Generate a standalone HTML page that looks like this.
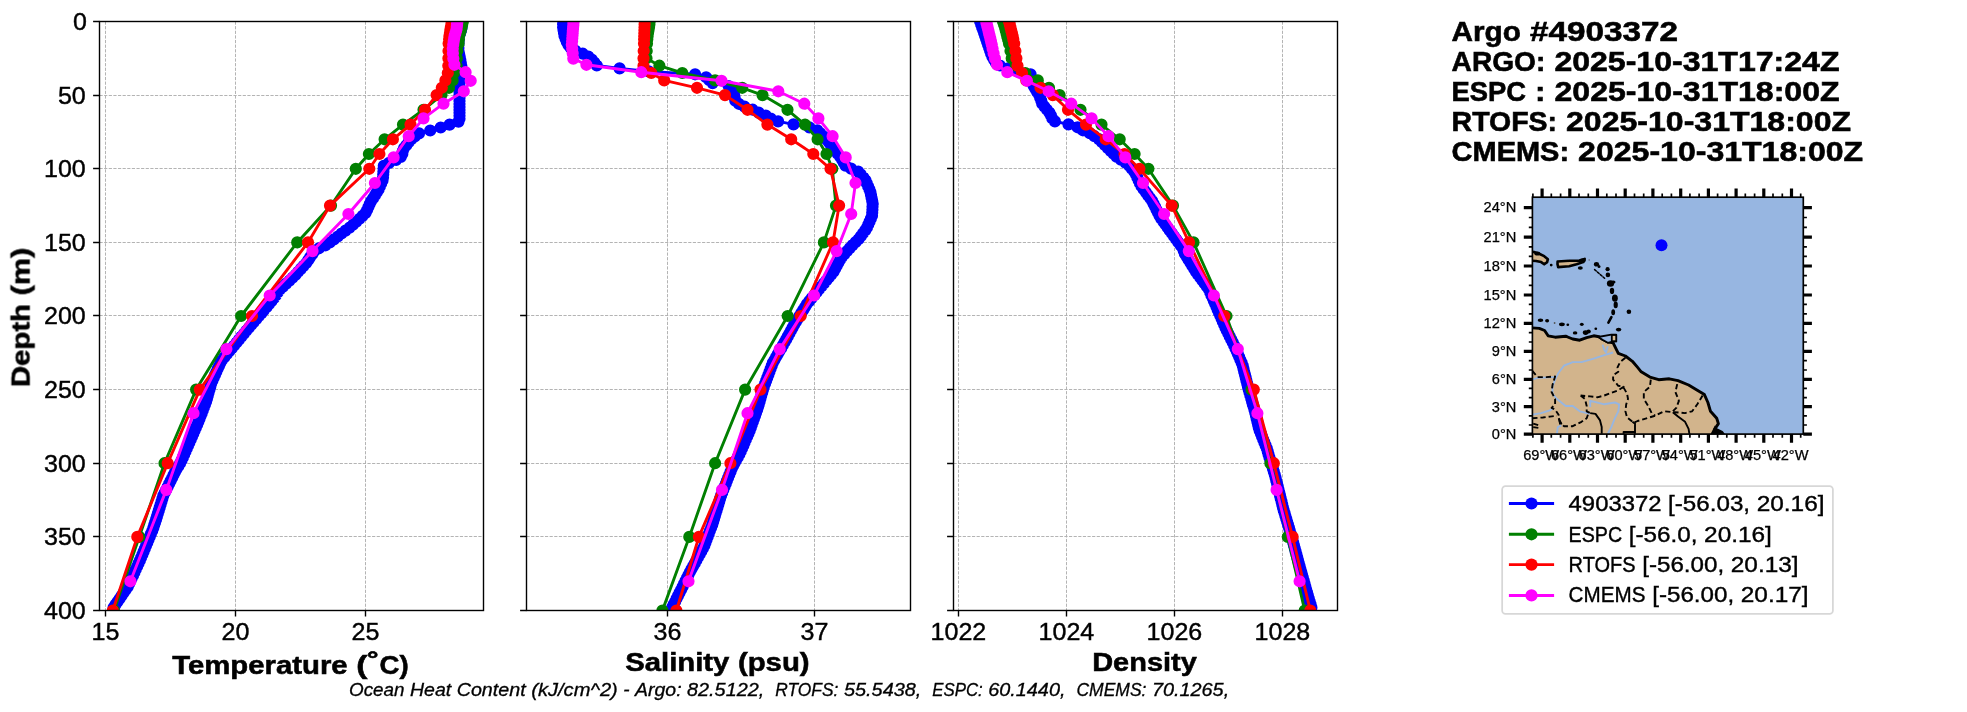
<!DOCTYPE html>
<html><head><meta charset="utf-8"><title>Argo 4903372</title>
<style>html,body{margin:0;padding:0;background:#fff;overflow:hidden}svg{display:block;font-family:"Liberation Sans",sans-serif}</style></head><body>
<svg width="1967" height="712" viewBox="0 0 1967 712">
<rect width="1967" height="712" fill="#fff"/>
<g opacity="0.999">
<defs>
<clipPath id="c0"><rect x="99.5" y="21.5" width="384" height="589"/></clipPath>
<clipPath id="c1"><rect x="526.5" y="21.5" width="384" height="589"/></clipPath>
<clipPath id="c2"><rect x="953.5" y="21.5" width="384" height="589"/></clipPath>
</defs>
<g id="panel1">
<path d="M99.5 95.5H483.5M99.5 168.5H483.5M99.5 242.5H483.5M99.5 315.5H483.5M99.5 389.5H483.5M99.5 463.5H483.5M99.5 536.5H483.5M105.5 21.5V610.5M235.5 21.5V610.5M365.5 21.5V610.5" stroke="#b0b0b0" stroke-width="0.95" stroke-dasharray="3.2 1.42" fill="none"/>
<g clip-path="url(#c0)">
<path d="M462 21.5L461.8 24.4L461.6 27.4L461 30.3L460 33.3L459 36.2L458.8 39.2L458.6 42.1L458.4 45.1L458.4 48L458.5 51L459.1 53.9L459.7 56.8L460.3 59.8L460.8 62.7L461.3 65.7L460.8 68.6L459.7 71.6L459.5 74.5L459.5 77.5L459.5 80.4L459.5 83.3L459.5 86.3L459.5 89.2L459.5 92.2L459.5 95.1L459.5 98.1L459.5 101L459.5 104L459.5 106.9L459.5 109.9L459.5 112.8L459.5 115.7L459.5 118.7L458.5 121.6L449.6 124.6L440.7 127.5L430.2 130.5L419 133.4L414.8 136.4L411.3 139.3L408.6 142.2L406.3 145.2L404.1 148.1L402.8 151.1L402.3 154L400.8 157L396.1 159.9L389.1 162.9L383.8 165.8L383.6 168.8L383.4 171.7L383.2 174.6L383 177.6L382.5 180.5L381.2 183.5L379.9 186.4L378.6 189.4L376.8 192.3L375 195.3L373.1 198.2L371.2 201.1L369.7 204.1L368.4 207L367.1 210L365.6 212.9L362.6 215.9L359.6 218.8L356.4 221.8L353 224.7L349.5 227.7L345.5 230.6L341.5 233.5L337.8 236.5L333.9 239.4L329.8 242.4L325.6 245.3L319 248.3L314.2 251.2L312.2 254.2L310.2 257.1L308.3 260L306.3 263L303.6 265.9L300.9 268.9L298.2 271.8L295.6 274.8L292.5 277.7L289.4 280.7L286.2 283.6L283 286.6L279.9 289.5L277.7 292.4L275.8 295.4L273.8 298.3L271.4 301.3L268.9 304.2L266.5 307.2L264 310.1L261.6 313.1L259 316L256.5 318.9L253.9 321.9L251.4 324.8L248.9 327.8L246.3 330.7L243.9 333.7L241.4 336.6L239 339.6L236.6 342.5L234.1 345.5L231.7 348.4L229.2 351.3L226.7 354.3L224.3 357.2L221.8 360.2L220.3 363.1L219 366.1L217.6 369L216.3 372L215 374.9L213.7 377.8L212.4 380.8L211.1 383.7L210.3 386.7L209.5 389.6L208.6 392.6L207.8 395.5L207 398.5L206.1 401.4L205 404.4L203.9 407.3L202.8 410.2L201.7 413.2L200.6 416.1L199.5 419.1L198.3 422L197.1 425L195.8 427.9L194.5 430.9L193.3 433.8L192 436.7L190.7 439.7L189.4 442.6L188.1 445.6L186.8 448.5L185.5 451.5L184.2 454.4L182.9 457.4L181.6 460.3L180.1 463.3L178.3 466.2L176.6 469.1L175 472.1L173.5 475L172.1 478L170.6 480.9L169.1 483.9L167.7 486.8L166.2 489.8L164.7 492.7L163.3 495.6L162.4 498.6L161.5 501.5L160.6 504.5L159.7 507.4L158.8 510.4L157.9 513.3L157 516.3L156.1 519.2L155.1 522.2L154.2 525.1L153.3 528L152.2 531L150.9 533.9L149.7 536.9L148.5 539.8L147.3 542.8L146 545.7L144.8 548.7L143.6 551.6L142.4 554.5L141.1 557.5L139.9 560.4L138.5 563.4L137.2 566.3L135.8 569.3L134.5 572.2L133.1 575.2L131.8 578.1L130.4 581.1L129.1 584L127.7 586.9L125.6 589.9L123.6 592.8L121.6 595.8L119.6 598.7L117.5 601.7L115.5 604.6L113.6 607.6" fill="none" stroke="#0000ff" stroke-width="2.9" stroke-linejoin="round"/><path d="M462 21.5h0M461.8 24.4h0M461.6 27.4h0M461 30.3h0M460 33.3h0M459 36.2h0M458.8 39.2h0M458.6 42.1h0M458.4 45.1h0M458.4 48h0M458.5 51h0M459.1 53.9h0M459.7 56.8h0M460.3 59.8h0M460.8 62.7h0M461.3 65.7h0M460.8 68.6h0M459.7 71.6h0M459.5 74.5h0M459.5 77.5h0M459.5 80.4h0M459.5 83.3h0M459.5 86.3h0M459.5 89.2h0M459.5 92.2h0M459.5 95.1h0M459.5 98.1h0M459.5 101h0M459.5 104h0M459.5 106.9h0M459.5 109.9h0M459.5 112.8h0M459.5 115.7h0M459.5 118.7h0M458.5 121.6h0M449.6 124.6h0M440.7 127.5h0M430.2 130.5h0M419 133.4h0M414.8 136.4h0M411.3 139.3h0M408.6 142.2h0M406.3 145.2h0M404.1 148.1h0M402.8 151.1h0M402.3 154h0M400.8 157h0M396.1 159.9h0M389.1 162.9h0M383.8 165.8h0M383.6 168.8h0M383.4 171.7h0M383.2 174.6h0M383 177.6h0M382.5 180.5h0M381.2 183.5h0M379.9 186.4h0M378.6 189.4h0M376.8 192.3h0M375 195.3h0M373.1 198.2h0M371.2 201.1h0M369.7 204.1h0M368.4 207h0M367.1 210h0M365.6 212.9h0M362.6 215.9h0M359.6 218.8h0M356.4 221.8h0M353 224.7h0M349.5 227.7h0M345.5 230.6h0M341.5 233.5h0M337.8 236.5h0M333.9 239.4h0M329.8 242.4h0M325.6 245.3h0M319 248.3h0M314.2 251.2h0M312.2 254.2h0M310.2 257.1h0M308.3 260h0M306.3 263h0M303.6 265.9h0M300.9 268.9h0M298.2 271.8h0M295.6 274.8h0M292.5 277.7h0M289.4 280.7h0M286.2 283.6h0M283 286.6h0M279.9 289.5h0M277.7 292.4h0M275.8 295.4h0M273.8 298.3h0M271.4 301.3h0M268.9 304.2h0M266.5 307.2h0M264 310.1h0M261.6 313.1h0M259 316h0M256.5 318.9h0M253.9 321.9h0M251.4 324.8h0M248.9 327.8h0M246.3 330.7h0M243.9 333.7h0M241.4 336.6h0M239 339.6h0M236.6 342.5h0M234.1 345.5h0M231.7 348.4h0M229.2 351.3h0M226.7 354.3h0M224.3 357.2h0M221.8 360.2h0M220.3 363.1h0M219 366.1h0M217.6 369h0M216.3 372h0M215 374.9h0M213.7 377.8h0M212.4 380.8h0M211.1 383.7h0M210.3 386.7h0M209.5 389.6h0M208.6 392.6h0M207.8 395.5h0M207 398.5h0M206.1 401.4h0M205 404.4h0M203.9 407.3h0M202.8 410.2h0M201.7 413.2h0M200.6 416.1h0M199.5 419.1h0M198.3 422h0M197.1 425h0M195.8 427.9h0M194.5 430.9h0M193.3 433.8h0M192 436.7h0M190.7 439.7h0M189.4 442.6h0M188.1 445.6h0M186.8 448.5h0M185.5 451.5h0M184.2 454.4h0M182.9 457.4h0M181.6 460.3h0M180.1 463.3h0M178.3 466.2h0M176.6 469.1h0M175 472.1h0M173.5 475h0M172.1 478h0M170.6 480.9h0M169.1 483.9h0M167.7 486.8h0M166.2 489.8h0M164.7 492.7h0M163.3 495.6h0M162.4 498.6h0M161.5 501.5h0M160.6 504.5h0M159.7 507.4h0M158.8 510.4h0M157.9 513.3h0M157 516.3h0M156.1 519.2h0M155.1 522.2h0M154.2 525.1h0M153.3 528h0M152.2 531h0M150.9 533.9h0M149.7 536.9h0M148.5 539.8h0M147.3 542.8h0M146 545.7h0M144.8 548.7h0M143.6 551.6h0M142.4 554.5h0M141.1 557.5h0M139.9 560.4h0M138.5 563.4h0M137.2 566.3h0M135.8 569.3h0M134.5 572.2h0M133.1 575.2h0M131.8 578.1h0M130.4 581.1h0M129.1 584h0M127.7 586.9h0M125.6 589.9h0M123.6 592.8h0M121.6 595.8h0M119.6 598.7h0M117.5 601.7h0M115.5 604.6h0M113.6 607.6h0" fill="none" stroke="#0000ff" stroke-width="12.2" stroke-linecap="round"/>
<path d="M462.9 21.5L462.2 24.4L461.5 27.4L460.8 30.3L459.9 33.3L459 36.2L458.9 39.2L458.6 43.6L457.3 51L456.9 58.3L456.6 65.7L454 73L452.6 80.4L449 87.8L441.5 95.1L423.5 109.8L403 124.6L384.6 139.3L368.9 154L355.8 168.8L331 205.6L297.2 242.4L241.1 316L196.1 389.6L164.5 463.2L139.3 536.9L114 610.5" fill="none" stroke="#008000" stroke-width="2.9" stroke-linejoin="round"/><path d="M462.9 21.5h0M462.2 24.4h0M461.5 27.4h0M460.8 30.3h0M459.9 33.3h0M459 36.2h0M458.9 39.2h0M458.6 43.6h0M457.3 51h0M456.9 58.3h0M456.6 65.7h0M454 73h0M452.6 80.4h0M449 87.8h0M441.5 95.1h0M423.5 109.8h0M403 124.6h0M384.6 139.3h0M368.9 154h0M355.8 168.8h0M331 205.6h0M297.2 242.4h0M241.1 316h0M196.1 389.6h0M164.5 463.2h0M139.3 536.9h0M114 610.5h0" fill="none" stroke="#008000" stroke-width="12.2" stroke-linecap="round"/>
<path d="M451.9 21.5L451.4 24.4L450.8 27.4L450.3 30.3L449.9 33.3L449.4 36.2L449.1 39.2L448.6 43.6L448.5 51L448.4 58.3L448.3 65.7L447.8 73L445.4 80.4L441.8 87.8L436.6 95.1L425 109.8L410.5 124.6L392.9 139.3L379.4 154L369.3 168.8L330 205.6L308 242.4L252 316L199.8 389.6L167.7 463.2L137.3 536.9L112.8 610.5" fill="none" stroke="#ff0000" stroke-width="2.9" stroke-linejoin="round"/><path d="M451.9 21.5h0M451.4 24.4h0M450.8 27.4h0M450.3 30.3h0M449.9 33.3h0M449.4 36.2h0M449.1 39.2h0M448.6 43.6h0M448.5 51h0M448.4 58.3h0M448.3 65.7h0M447.8 73h0M445.4 80.4h0M441.8 87.8h0M436.6 95.1h0M425 109.8h0M410.5 124.6h0M392.9 139.3h0M379.4 154h0M369.3 168.8h0M330 205.6h0M308 242.4h0M252 316h0M199.8 389.6h0M167.7 463.2h0M137.3 536.9h0M112.8 610.5h0" fill="none" stroke="#ff0000" stroke-width="12.2" stroke-linecap="round"/>
<path d="M457.3 22.2L457.1 23.8L457 25.4L456.8 27.1L456.6 29L456.1 31L455.4 33.2L454.7 35.6L454.2 38.3L453.7 41.3L453.2 44.8L452.8 48.7L452.9 53.3L453.3 58.6L454.4 64.8L465.6 72.2L470.7 80.8L463.8 91.3L443.5 103.7L423.5 118.4L408.7 136.2L393.6 157.4L374.9 183L348.4 214L312.5 251.1L269.7 295.5L226.4 349.1L193.5 413.2L166.3 489.9L130.4 581.3" fill="none" stroke="#ff00ff" stroke-width="2.9" stroke-linejoin="round"/><path d="M457.3 22.2h0M457.1 23.8h0M457 25.4h0M456.8 27.1h0M456.6 29h0M456.1 31h0M455.4 33.2h0M454.7 35.6h0M454.2 38.3h0M453.7 41.3h0M453.2 44.8h0M452.8 48.7h0M452.9 53.3h0M453.3 58.6h0M454.4 64.8h0M465.6 72.2h0M470.7 80.8h0M463.8 91.3h0M443.5 103.7h0M423.5 118.4h0M408.7 136.2h0M393.6 157.4h0M374.9 183h0M348.4 214h0M312.5 251.1h0M269.7 295.5h0M226.4 349.1h0M193.5 413.2h0M166.3 489.9h0M130.4 581.3h0" fill="none" stroke="#ff00ff" stroke-width="12.2" stroke-linecap="round"/>
</g>
<rect x="99.5" y="21.5" width="384" height="589" fill="none" stroke="#000" stroke-width="1.4"/>
<path d="M99.5 21.5h-6.4M99.5 95.5h-6.4M99.5 168.5h-6.4M99.5 242.5h-6.4M99.5 315.5h-6.4M99.5 389.5h-6.4M99.5 463.5h-6.4M99.5 536.5h-6.4M99.5 610.5h-6.4M105.5 610.5v6.0M235.5 610.5v6.0M365.5 610.5v6.0" stroke="#000" stroke-width="1.4" fill="none"/>
<text x="91.6" y="639.6" font-size="23.9" stroke="#000" stroke-width="0.42" textLength="27.9" lengthAdjust="spacingAndGlyphs">15</text>
<text x="221.6" y="639.6" font-size="23.9" stroke="#000" stroke-width="0.42" textLength="27.9" lengthAdjust="spacingAndGlyphs">20</text>
<text x="351.6" y="639.6" font-size="23.9" stroke="#000" stroke-width="0.42" textLength="27.9" lengthAdjust="spacingAndGlyphs">25</text>
<text x="172.2" y="673.5" font-size="26.6" font-weight="bold" stroke="#000" stroke-width="0.56" textLength="175.5" lengthAdjust="spacingAndGlyphs">Temperature</text>
<text x="356.2" y="673.5" font-size="26.6" font-weight="bold" stroke="#000" stroke-width="0.56" textLength="11.2" lengthAdjust="spacingAndGlyphs">(</text>
<text x="367.4" y="671.9" font-size="26.6" font-weight="bold" stroke="#000" stroke-width="0.56" textLength="12.2" lengthAdjust="spacingAndGlyphs">˚</text>
<text x="379.6" y="673.5" font-size="26.6" font-weight="bold" stroke="#000" stroke-width="0.56" textLength="29.1" lengthAdjust="spacingAndGlyphs">C)</text>
</g>
<g id="panel2">
<path d="M526.5 95.5H910.5M526.5 168.5H910.5M526.5 242.5H910.5M526.5 315.5H910.5M526.5 389.5H910.5M526.5 463.5H910.5M526.5 536.5H910.5M667.5 21.5V610.5M814.5 21.5V610.5" stroke="#b0b0b0" stroke-width="0.95" stroke-dasharray="3.2 1.42" fill="none"/>
<g clip-path="url(#c1)">
<path d="M563.1 21.3L563.1 24.2L563.1 27.2L563.5 30.1L564 33.1L564.5 36L565.6 39L566.8 41.9L568.4 44.9L570.6 47.8L575.5 50.8L582.8 53.7L588.4 56.6L591.8 59.6L594.4 62.5L596.8 65.5L619.6 68.4L648.7 71.4L695.1 74.3L706.1 77.3L709.4 80.2L712.6 83.1L728.6 86.1L731.3 89L732.7 92L734.1 94.9L734.7 97.9L735.3 100.8L738.8 103.8L744.6 106.7L752.7 109.7L758.7 112.6L765.8 115.5L770.8 118.5L778.1 121.4L793.5 124.4L809.3 127.3L817.4 130.3L820.3 133.2L823.2 136.2L826.1 139.1L828.5 142L830.7 145L832.9 147.9L835.2 150.9L837.6 153.8L840.1 156.8L842.1 159.7L843.8 162.7L845.5 165.6L851.1 168.6L858.2 171.5L860.7 174.4L863.3 177.4L865.5 180.3L866.8 183.3L868.1 186.2L869.4 189.2L870.4 192.1L871 195.1L871.6 198L872.2 200.9L872.7 203.9L872.5 206.8L872.4 209.8L872.2 212.7L872 215.7L870.9 218.6L869.6 221.6L868.3 224.5L867 227.5L865.2 230.4L863 233.3L860.8 236.3L858.5 239.2L855.5 242.2L852.6 245.1L849.8 248.1L847.2 251L844.6 254L842 256.9L840 259.8L838.4 262.8L836.8 265.7L835.2 268.7L833.6 271.6L831.2 274.6L828.8 277.5L826.3 280.5L823.9 283.4L821.4 286.4L819 289.3L816.6 292.2L814.2 295.2L811.7 298.1L809.3 301.1L806.9 304L805.1 307L803.3 309.9L801.4 312.9L799.6 315.8L797.8 318.7L796 321.7L794.2 324.6L792.6 327.6L791 330.5L789.4 333.5L787.8 336.4L786.2 339.4L784.5 342.3L782.8 345.3L781.2 348.2L779.5 351.1L777.8 354.1L776.1 357L774.5 360L772.8 362.9L771.7 365.9L770.6 368.8L769.5 371.8L768.4 374.7L767.3 377.6L766.2 380.6L765.1 383.5L763.9 386.5L763 389.4L762.2 392.4L761.3 395.3L760.5 398.3L759.7 401.2L758.8 404.2L758 407.1L757.1 410L756 413L755 415.9L753.9 418.9L752.9 421.8L751.8 424.8L750.8 427.7L749.7 430.7L748.5 433.6L747.2 436.5L745.9 439.5L744.6 442.4L743.4 445.4L742.1 448.3L740.8 451.3L739.4 454.2L737.8 457.2L736.2 460.1L734.6 463.1L733.1 466L731.6 468.9L730.5 471.9L729.3 474.8L728.1 477.8L726.9 480.7L725.8 483.7L724.6 486.6L723.4 489.6L722.3 492.5L721.1 495.4L720.1 498.4L719.3 501.3L718.4 504.3L717.5 507.2L716.6 510.2L715.7 513.1L714.9 516.1L714 519L713.1 522L712.2 524.9L711.1 527.8L709.9 530.8L708.8 533.7L707.7 536.7L706.6 539.6L705.5 542.6L704.4 545.5L702.9 548.5L701.3 551.4L699.7 554.3L698 557.3L696.4 560.2L694.8 563.2L693.2 566.1L691.5 569.1L689.9 572L688.4 575L687 577.9L685.5 580.9L684 583.8L682.6 586.7L681.1 589.7L679.6 592.6L678.1 595.6L676.6 598.5L675.2 601.5L673.7 604.4L672.2 607.4" fill="none" stroke="#0000ff" stroke-width="2.9" stroke-linejoin="round"/><path d="M563.1 21.3h0M563.1 24.2h0M563.1 27.2h0M563.5 30.1h0M564 33.1h0M564.5 36h0M565.6 39h0M566.8 41.9h0M568.4 44.9h0M570.6 47.8h0M575.5 50.8h0M582.8 53.7h0M588.4 56.6h0M591.8 59.6h0M594.4 62.5h0M596.8 65.5h0M619.6 68.4h0M648.7 71.4h0M695.1 74.3h0M706.1 77.3h0M709.4 80.2h0M712.6 83.1h0M728.6 86.1h0M731.3 89h0M732.7 92h0M734.1 94.9h0M734.7 97.9h0M735.3 100.8h0M738.8 103.8h0M744.6 106.7h0M752.7 109.7h0M758.7 112.6h0M765.8 115.5h0M770.8 118.5h0M778.1 121.4h0M793.5 124.4h0M809.3 127.3h0M817.4 130.3h0M820.3 133.2h0M823.2 136.2h0M826.1 139.1h0M828.5 142h0M830.7 145h0M832.9 147.9h0M835.2 150.9h0M837.6 153.8h0M840.1 156.8h0M842.1 159.7h0M843.8 162.7h0M845.5 165.6h0M851.1 168.6h0M858.2 171.5h0M860.7 174.4h0M863.3 177.4h0M865.5 180.3h0M866.8 183.3h0M868.1 186.2h0M869.4 189.2h0M870.4 192.1h0M871 195.1h0M871.6 198h0M872.2 200.9h0M872.7 203.9h0M872.5 206.8h0M872.4 209.8h0M872.2 212.7h0M872 215.7h0M870.9 218.6h0M869.6 221.6h0M868.3 224.5h0M867 227.5h0M865.2 230.4h0M863 233.3h0M860.8 236.3h0M858.5 239.2h0M855.5 242.2h0M852.6 245.1h0M849.8 248.1h0M847.2 251h0M844.6 254h0M842 256.9h0M840 259.8h0M838.4 262.8h0M836.8 265.7h0M835.2 268.7h0M833.6 271.6h0M831.2 274.6h0M828.8 277.5h0M826.3 280.5h0M823.9 283.4h0M821.4 286.4h0M819 289.3h0M816.6 292.2h0M814.2 295.2h0M811.7 298.1h0M809.3 301.1h0M806.9 304h0M805.1 307h0M803.3 309.9h0M801.4 312.9h0M799.6 315.8h0M797.8 318.7h0M796 321.7h0M794.2 324.6h0M792.6 327.6h0M791 330.5h0M789.4 333.5h0M787.8 336.4h0M786.2 339.4h0M784.5 342.3h0M782.8 345.3h0M781.2 348.2h0M779.5 351.1h0M777.8 354.1h0M776.1 357h0M774.5 360h0M772.8 362.9h0M771.7 365.9h0M770.6 368.8h0M769.5 371.8h0M768.4 374.7h0M767.3 377.6h0M766.2 380.6h0M765.1 383.5h0M763.9 386.5h0M763 389.4h0M762.2 392.4h0M761.3 395.3h0M760.5 398.3h0M759.7 401.2h0M758.8 404.2h0M758 407.1h0M757.1 410h0M756 413h0M755 415.9h0M753.9 418.9h0M752.9 421.8h0M751.8 424.8h0M750.8 427.7h0M749.7 430.7h0M748.5 433.6h0M747.2 436.5h0M745.9 439.5h0M744.6 442.4h0M743.4 445.4h0M742.1 448.3h0M740.8 451.3h0M739.4 454.2h0M737.8 457.2h0M736.2 460.1h0M734.6 463.1h0M733.1 466h0M731.6 468.9h0M730.5 471.9h0M729.3 474.8h0M728.1 477.8h0M726.9 480.7h0M725.8 483.7h0M724.6 486.6h0M723.4 489.6h0M722.3 492.5h0M721.1 495.4h0M720.1 498.4h0M719.3 501.3h0M718.4 504.3h0M717.5 507.2h0M716.6 510.2h0M715.7 513.1h0M714.9 516.1h0M714 519h0M713.1 522h0M712.2 524.9h0M711.1 527.8h0M709.9 530.8h0M708.8 533.7h0M707.7 536.7h0M706.6 539.6h0M705.5 542.6h0M704.4 545.5h0M702.9 548.5h0M701.3 551.4h0M699.7 554.3h0M698 557.3h0M696.4 560.2h0M694.8 563.2h0M693.2 566.1h0M691.5 569.1h0M689.9 572h0M688.4 575h0M687 577.9h0M685.5 580.9h0M684 583.8h0M682.6 586.7h0M681.1 589.7h0M679.6 592.6h0M678.1 595.6h0M676.6 598.5h0M675.2 601.5h0M673.7 604.4h0M672.2 607.4h0" fill="none" stroke="#0000ff" stroke-width="12.2" stroke-linecap="round"/>
<path d="M649.7 21.5L649.4 24.4L649 27.4L648.5 30.3L648 33.3L647.6 36.2L647.3 39.2L647 43.6L646.7 51L646.5 58.3L659.4 65.7L682.3 73L715.1 80.4L742.2 87.8L762.5 95.1L787.5 109.8L805 124.6L817.6 139.3L826.5 154L832.3 168.8L836 205.6L823.9 242.4L787.7 316L745.1 389.6L715.1 463.2L689.3 536.9L662.4 610.5" fill="none" stroke="#008000" stroke-width="2.9" stroke-linejoin="round"/><path d="M649.7 21.5h0M649.4 24.4h0M649 27.4h0M648.5 30.3h0M648 33.3h0M647.6 36.2h0M647.3 39.2h0M647 43.6h0M646.7 51h0M646.5 58.3h0M659.4 65.7h0M682.3 73h0M715.1 80.4h0M742.2 87.8h0M762.5 95.1h0M787.5 109.8h0M805 124.6h0M817.6 139.3h0M826.5 154h0M832.3 168.8h0M836 205.6h0M823.9 242.4h0M787.7 316h0M745.1 389.6h0M715.1 463.2h0M689.3 536.9h0M662.4 610.5h0" fill="none" stroke="#008000" stroke-width="12.2" stroke-linecap="round"/>
<path d="M644.7 21.5L644.6 24.4L644.5 27.4L644.4 30.3L644.3 33.3L644.2 36.2L644.1 39.2L644 43.6L643.7 51L643.5 58.3L643.5 65.7L651.3 73L664.2 80.4L697 87.8L725 95.1L747.5 109.8L767.4 124.6L791.2 139.3L813.3 154L830.5 168.8L839.1 205.6L833 242.4L800.7 316L760.5 389.6L730.4 463.2L698.9 536.9L676.4 610.5" fill="none" stroke="#ff0000" stroke-width="2.9" stroke-linejoin="round"/><path d="M644.7 21.5h0M644.6 24.4h0M644.5 27.4h0M644.4 30.3h0M644.3 33.3h0M644.2 36.2h0M644.1 39.2h0M644 43.6h0M643.7 51h0M643.5 58.3h0M643.5 65.7h0M651.3 73h0M664.2 80.4h0M697 87.8h0M725 95.1h0M747.5 109.8h0M767.4 124.6h0M791.2 139.3h0M813.3 154h0M830.5 168.8h0M839.1 205.6h0M833 242.4h0M800.7 316h0M760.5 389.6h0M730.4 463.2h0M698.9 536.9h0M676.4 610.5h0" fill="none" stroke="#ff0000" stroke-width="12.2" stroke-linecap="round"/>
<path d="M573.5 22.2L573.4 23.8L573.3 25.4L573.1 27.1L573 29L572.8 31L572.7 33.2L572.5 35.6L572.3 38.3L572.1 41.3L571.8 44.8L572.2 48.7L572.7 53.3L573.3 58.6L586.4 64.8L641.3 72.2L721.5 80.8L778.3 91.3L804.3 103.7L818.4 118.4L832.6 136.2L845.7 157.4L855.5 183L851.2 214L836.6 251.1L814 295.5L779.7 349.1L747.5 413.2L722 489.9L688.5 581.3" fill="none" stroke="#ff00ff" stroke-width="2.9" stroke-linejoin="round"/><path d="M573.5 22.2h0M573.4 23.8h0M573.3 25.4h0M573.1 27.1h0M573 29h0M572.8 31h0M572.7 33.2h0M572.5 35.6h0M572.3 38.3h0M572.1 41.3h0M571.8 44.8h0M572.2 48.7h0M572.7 53.3h0M573.3 58.6h0M586.4 64.8h0M641.3 72.2h0M721.5 80.8h0M778.3 91.3h0M804.3 103.7h0M818.4 118.4h0M832.6 136.2h0M845.7 157.4h0M855.5 183h0M851.2 214h0M836.6 251.1h0M814 295.5h0M779.7 349.1h0M747.5 413.2h0M722 489.9h0M688.5 581.3h0" fill="none" stroke="#ff00ff" stroke-width="12.2" stroke-linecap="round"/>
</g>
<rect x="526.5" y="21.5" width="384" height="589" fill="none" stroke="#000" stroke-width="1.4"/>
<path d="M526.5 21.5h-6.4M526.5 95.5h-6.4M526.5 168.5h-6.4M526.5 242.5h-6.4M526.5 315.5h-6.4M526.5 389.5h-6.4M526.5 463.5h-6.4M526.5 536.5h-6.4M526.5 610.5h-6.4M667.5 610.5v6.0M814.5 610.5v6.0" stroke="#000" stroke-width="1.4" fill="none"/>
<text x="653.6" y="639.6" font-size="23.9" stroke="#000" stroke-width="0.42" textLength="27.9" lengthAdjust="spacingAndGlyphs">36</text>
<text x="800.6" y="639.6" font-size="23.9" stroke="#000" stroke-width="0.42" textLength="27.9" lengthAdjust="spacingAndGlyphs">37</text>
<text x="625.3" y="671" font-size="26.6" font-weight="bold" stroke="#000" stroke-width="0.56" textLength="104.1" lengthAdjust="spacingAndGlyphs">Salinity</text><text x="737.9" y="671" font-size="26.6" font-weight="bold" stroke="#000" stroke-width="0.56" textLength="71.7" lengthAdjust="spacingAndGlyphs">(psu)</text>
</g>
<g id="panel3">
<path d="M953.5 95.5H1337.5M953.5 168.5H1337.5M953.5 242.5H1337.5M953.5 315.5H1337.5M953.5 389.5H1337.5M953.5 463.5H1337.5M953.5 536.5H1337.5M958.5 21.5V610.5M1066.5 21.5V610.5M1174.5 21.5V610.5M1282.5 21.5V610.5" stroke="#b0b0b0" stroke-width="0.95" stroke-dasharray="3.2 1.42" fill="none"/>
<g clip-path="url(#c2)">
<path d="M980.1 21.3L981.1 24.2L982.1 27.2L983.1 30.1L984.1 33.1L985.1 36L986.1 39L987.1 41.9L988.1 44.9L989.1 47.8L990.1 50.8L991.1 53.7L992.3 56.6L994 59.6L995.8 62.5L999.9 65.5L1008.2 68.4L1017.5 71.4L1030.6 74.3L1031 77.3L1031.1 80.2L1032.2 83.1L1033.7 86.1L1035.4 89L1037.1 92L1039.1 94.9L1040.2 97.9L1041.3 100.8L1042.2 103.8L1044.5 106.7L1047 109.7L1049.4 112.6L1051 115.5L1052.3 118.5L1054.9 121.4L1068.5 124.4L1077.6 127.3L1082.9 130.3L1089.8 133.2L1094.4 136.2L1098.8 139.1L1101.7 142L1104.7 145L1107.6 147.9L1110.6 150.9L1113.5 153.8L1116.5 156.8L1120.9 159.7L1125.5 162.7L1129.2 165.6L1131.7 168.6L1134.2 171.5L1136 174.4L1137.3 177.4L1138.6 180.3L1139.9 183.3L1141.5 186.2L1143.6 189.2L1145.7 192.1L1147.8 195.1L1150 198L1152.1 200.9L1153.6 203.9L1155.1 206.8L1156.5 209.8L1158 212.7L1159.5 215.7L1161.2 218.6L1163.4 221.6L1165.5 224.5L1167.6 227.5L1169.7 230.4L1171.9 233.3L1174 236.3L1176.2 239.2L1178.3 242.2L1180.4 245.1L1182.6 248.1L1183.8 251L1184.9 254L1186.8 256.9L1188.6 259.8L1190.4 262.8L1192.2 265.7L1194.1 268.7L1195.9 271.6L1198 274.6L1200.2 277.5L1202.4 280.5L1204.6 283.4L1206.8 286.4L1208.9 289.3L1210.2 292.2L1211.4 295.2L1212.7 298.1L1213.9 301.1L1215.2 304L1216.5 307L1217.7 309.9L1219 312.9L1220.3 315.8L1221.6 318.7L1222.8 321.7L1224.1 324.6L1225.4 327.6L1226.8 330.5L1228.3 333.5L1229.7 336.4L1231.2 339.4L1232.7 342.3L1234.1 345.3L1235.4 348.2L1236.6 351.1L1237.9 354.1L1239.2 357L1240.4 360L1241.7 362.9L1242.8 365.9L1243.5 368.8L1244.2 371.8L1245 374.7L1245.7 377.6L1246.4 380.6L1247.2 383.5L1247.9 386.5L1248.7 389.4L1249.5 392.4L1250.3 395.3L1251.2 398.3L1252 401.2L1252.8 404.2L1253.7 407.1L1254.5 410L1255.3 413L1256 415.9L1256.7 418.9L1257.4 421.8L1258.1 424.8L1258.8 427.7L1259.7 430.7L1260.9 433.6L1262 436.5L1263.2 439.5L1264.4 442.4L1265.6 445.4L1266.8 448.3L1267.7 451.3L1268.5 454.2L1269.4 457.2L1270.3 460.1L1271.2 463.1L1272.1 466L1273 468.9L1273.9 471.9L1274.8 474.8L1275.6 477.8L1276.3 480.7L1277.1 483.7L1277.8 486.6L1278.5 489.6L1279.3 492.5L1280 495.4L1280.7 498.4L1281.5 501.3L1282.2 504.3L1282.9 507.2L1283.7 510.2L1284.6 513.1L1285.4 516.1L1286.3 519L1287.2 522L1288.1 524.9L1289 527.8L1289.8 530.8L1290.7 533.7L1291.6 536.7L1292.4 539.6L1293.2 542.6L1294 545.5L1294.8 548.5L1295.6 551.4L1296.4 554.3L1297.2 557.3L1298 560.2L1298.8 563.2L1299.6 566.1L1300.4 569.1L1301.3 572L1302.1 575L1302.9 577.9L1303.8 580.9L1304.6 583.8L1305.4 586.7L1306.2 589.7L1307.1 592.6L1307.9 595.6L1308.8 598.5L1309.7 601.5L1310.6 604.4L1311.4 607.4" fill="none" stroke="#0000ff" stroke-width="2.9" stroke-linejoin="round"/><path d="M980.1 21.3h0M981.1 24.2h0M982.1 27.2h0M983.1 30.1h0M984.1 33.1h0M985.1 36h0M986.1 39h0M987.1 41.9h0M988.1 44.9h0M989.1 47.8h0M990.1 50.8h0M991.1 53.7h0M992.3 56.6h0M994 59.6h0M995.8 62.5h0M999.9 65.5h0M1008.2 68.4h0M1017.5 71.4h0M1030.6 74.3h0M1031 77.3h0M1031.1 80.2h0M1032.2 83.1h0M1033.7 86.1h0M1035.4 89h0M1037.1 92h0M1039.1 94.9h0M1040.2 97.9h0M1041.3 100.8h0M1042.2 103.8h0M1044.5 106.7h0M1047 109.7h0M1049.4 112.6h0M1051 115.5h0M1052.3 118.5h0M1054.9 121.4h0M1068.5 124.4h0M1077.6 127.3h0M1082.9 130.3h0M1089.8 133.2h0M1094.4 136.2h0M1098.8 139.1h0M1101.7 142h0M1104.7 145h0M1107.6 147.9h0M1110.6 150.9h0M1113.5 153.8h0M1116.5 156.8h0M1120.9 159.7h0M1125.5 162.7h0M1129.2 165.6h0M1131.7 168.6h0M1134.2 171.5h0M1136 174.4h0M1137.3 177.4h0M1138.6 180.3h0M1139.9 183.3h0M1141.5 186.2h0M1143.6 189.2h0M1145.7 192.1h0M1147.8 195.1h0M1150 198h0M1152.1 200.9h0M1153.6 203.9h0M1155.1 206.8h0M1156.5 209.8h0M1158 212.7h0M1159.5 215.7h0M1161.2 218.6h0M1163.4 221.6h0M1165.5 224.5h0M1167.6 227.5h0M1169.7 230.4h0M1171.9 233.3h0M1174 236.3h0M1176.2 239.2h0M1178.3 242.2h0M1180.4 245.1h0M1182.6 248.1h0M1183.8 251h0M1184.9 254h0M1186.8 256.9h0M1188.6 259.8h0M1190.4 262.8h0M1192.2 265.7h0M1194.1 268.7h0M1195.9 271.6h0M1198 274.6h0M1200.2 277.5h0M1202.4 280.5h0M1204.6 283.4h0M1206.8 286.4h0M1208.9 289.3h0M1210.2 292.2h0M1211.4 295.2h0M1212.7 298.1h0M1213.9 301.1h0M1215.2 304h0M1216.5 307h0M1217.7 309.9h0M1219 312.9h0M1220.3 315.8h0M1221.6 318.7h0M1222.8 321.7h0M1224.1 324.6h0M1225.4 327.6h0M1226.8 330.5h0M1228.3 333.5h0M1229.7 336.4h0M1231.2 339.4h0M1232.7 342.3h0M1234.1 345.3h0M1235.4 348.2h0M1236.6 351.1h0M1237.9 354.1h0M1239.2 357h0M1240.4 360h0M1241.7 362.9h0M1242.8 365.9h0M1243.5 368.8h0M1244.2 371.8h0M1245 374.7h0M1245.7 377.6h0M1246.4 380.6h0M1247.2 383.5h0M1247.9 386.5h0M1248.7 389.4h0M1249.5 392.4h0M1250.3 395.3h0M1251.2 398.3h0M1252 401.2h0M1252.8 404.2h0M1253.7 407.1h0M1254.5 410h0M1255.3 413h0M1256 415.9h0M1256.7 418.9h0M1257.4 421.8h0M1258.1 424.8h0M1258.8 427.7h0M1259.7 430.7h0M1260.9 433.6h0M1262 436.5h0M1263.2 439.5h0M1264.4 442.4h0M1265.6 445.4h0M1266.8 448.3h0M1267.7 451.3h0M1268.5 454.2h0M1269.4 457.2h0M1270.3 460.1h0M1271.2 463.1h0M1272.1 466h0M1273 468.9h0M1273.9 471.9h0M1274.8 474.8h0M1275.6 477.8h0M1276.3 480.7h0M1277.1 483.7h0M1277.8 486.6h0M1278.5 489.6h0M1279.3 492.5h0M1280 495.4h0M1280.7 498.4h0M1281.5 501.3h0M1282.2 504.3h0M1282.9 507.2h0M1283.7 510.2h0M1284.6 513.1h0M1285.4 516.1h0M1286.3 519h0M1287.2 522h0M1288.1 524.9h0M1289 527.8h0M1289.8 530.8h0M1290.7 533.7h0M1291.6 536.7h0M1292.4 539.6h0M1293.2 542.6h0M1294 545.5h0M1294.8 548.5h0M1295.6 551.4h0M1296.4 554.3h0M1297.2 557.3h0M1298 560.2h0M1298.8 563.2h0M1299.6 566.1h0M1300.4 569.1h0M1301.3 572h0M1302.1 575h0M1302.9 577.9h0M1303.8 580.9h0M1304.6 583.8h0M1305.4 586.7h0M1306.2 589.7h0M1307.1 592.6h0M1307.9 595.6h0M1308.8 598.5h0M1309.7 601.5h0M1310.6 604.4h0M1311.4 607.4h0" fill="none" stroke="#0000ff" stroke-width="12.2" stroke-linecap="round"/>
<path d="M1003 21.5L1004 24.4L1005 27.4L1005.7 30.3L1006.5 33.3L1007.2 36.2L1008 39.2L1009 43.6L1010.5 51L1011.7 58.3L1016 65.7L1025.3 73L1037.8 80.4L1049 87.8L1059.6 95.1L1080.5 109.8L1101.5 124.6L1119.7 139.3L1134.6 154L1148.4 168.8L1173 205.6L1193.5 242.4L1226.5 316L1251.5 389.6L1270.4 463.2L1287.8 536.9L1304.7 610.5" fill="none" stroke="#008000" stroke-width="2.9" stroke-linejoin="round"/><path d="M1003 21.5h0M1004 24.4h0M1005 27.4h0M1005.7 30.3h0M1006.5 33.3h0M1007.2 36.2h0M1008 39.2h0M1009 43.6h0M1010.5 51h0M1011.7 58.3h0M1016 65.7h0M1025.3 73h0M1037.8 80.4h0M1049 87.8h0M1059.6 95.1h0M1080.5 109.8h0M1101.5 124.6h0M1119.7 139.3h0M1134.6 154h0M1148.4 168.8h0M1173 205.6h0M1193.5 242.4h0M1226.5 316h0M1251.5 389.6h0M1270.4 463.2h0M1287.8 536.9h0M1304.7 610.5h0" fill="none" stroke="#008000" stroke-width="12.2" stroke-linecap="round"/>
<path d="M1009 21.5L1009.8 24.4L1010.5 27.4L1011.2 30.3L1012 33.3L1012.7 36.2L1013.3 39.2L1014.2 43.6L1015.4 51L1016.4 58.3L1017.5 65.7L1022 73L1026.3 80.4L1040.5 87.8L1052.8 95.1L1068 109.8L1086 124.6L1105.7 139.3L1124.5 154L1139.4 168.8L1171.7 205.6L1189 242.4L1224.3 316L1253.8 389.6L1273.8 463.2L1292.6 536.9L1310.3 610.5" fill="none" stroke="#ff0000" stroke-width="2.9" stroke-linejoin="round"/><path d="M1009 21.5h0M1009.8 24.4h0M1010.5 27.4h0M1011.2 30.3h0M1012 33.3h0M1012.7 36.2h0M1013.3 39.2h0M1014.2 43.6h0M1015.4 51h0M1016.4 58.3h0M1017.5 65.7h0M1022 73h0M1026.3 80.4h0M1040.5 87.8h0M1052.8 95.1h0M1068 109.8h0M1086 124.6h0M1105.7 139.3h0M1124.5 154h0M1139.4 168.8h0M1171.7 205.6h0M1189 242.4h0M1224.3 316h0M1253.8 389.6h0M1273.8 463.2h0M1292.6 536.9h0M1310.3 610.5h0" fill="none" stroke="#ff0000" stroke-width="12.2" stroke-linecap="round"/>
<path d="M986.3 22.2L986.7 23.8L987.1 25.4L987.5 27.1L988 29L988.5 31L989 33.2L989.6 35.6L990.3 38.3L991 41.3L991.8 44.8L992.6 48.7L993.6 53.3L995 58.6L997 64.8L1007.3 72.2L1026.9 80.8L1048.7 91.3L1071.3 103.7L1091.6 118.4L1108.5 136.2L1125.3 157.4L1143 183L1164.1 214L1188.8 251.1L1213.9 295.5L1237.8 349.1L1257.4 413.2L1276.6 489.9L1299.6 581.3" fill="none" stroke="#ff00ff" stroke-width="2.9" stroke-linejoin="round"/><path d="M986.3 22.2h0M986.7 23.8h0M987.1 25.4h0M987.5 27.1h0M988 29h0M988.5 31h0M989 33.2h0M989.6 35.6h0M990.3 38.3h0M991 41.3h0M991.8 44.8h0M992.6 48.7h0M993.6 53.3h0M995 58.6h0M997 64.8h0M1007.3 72.2h0M1026.9 80.8h0M1048.7 91.3h0M1071.3 103.7h0M1091.6 118.4h0M1108.5 136.2h0M1125.3 157.4h0M1143 183h0M1164.1 214h0M1188.8 251.1h0M1213.9 295.5h0M1237.8 349.1h0M1257.4 413.2h0M1276.6 489.9h0M1299.6 581.3h0" fill="none" stroke="#ff00ff" stroke-width="12.2" stroke-linecap="round"/>
</g>
<rect x="953.5" y="21.5" width="384" height="589" fill="none" stroke="#000" stroke-width="1.4"/>
<path d="M953.5 21.5h-6.4M953.5 95.5h-6.4M953.5 168.5h-6.4M953.5 242.5h-6.4M953.5 315.5h-6.4M953.5 389.5h-6.4M953.5 463.5h-6.4M953.5 536.5h-6.4M953.5 610.5h-6.4M958.5 610.5v6.0M1066.5 610.5v6.0M1174.5 610.5v6.0M1282.5 610.5v6.0" stroke="#000" stroke-width="1.4" fill="none"/>
<text x="930.6" y="639.6" font-size="23.9" stroke="#000" stroke-width="0.42" textLength="55.7" lengthAdjust="spacingAndGlyphs">1022</text>
<text x="1038.6" y="639.6" font-size="23.9" stroke="#000" stroke-width="0.42" textLength="55.7" lengthAdjust="spacingAndGlyphs">1024</text>
<text x="1146.6" y="639.6" font-size="23.9" stroke="#000" stroke-width="0.42" textLength="55.7" lengthAdjust="spacingAndGlyphs">1026</text>
<text x="1254.6" y="639.6" font-size="23.9" stroke="#000" stroke-width="0.42" textLength="55.7" lengthAdjust="spacingAndGlyphs">1028</text>
<text x="1092.2" y="671" font-size="26.6" font-weight="bold" stroke="#000" stroke-width="0.56" textLength="104.6" lengthAdjust="spacingAndGlyphs">Density</text>
</g>
<text x="73.1" y="30.3" font-size="23.9" stroke="#000" stroke-width="0.42" textLength="13.9" lengthAdjust="spacingAndGlyphs">0</text>
<text x="57.9" y="104.3" font-size="23.9" stroke="#000" stroke-width="0.42" textLength="27.9" lengthAdjust="spacingAndGlyphs">50</text>
<text x="44" y="177.3" font-size="23.9" stroke="#000" stroke-width="0.42" textLength="41.8" lengthAdjust="spacingAndGlyphs">100</text>
<text x="44" y="251.3" font-size="23.9" stroke="#000" stroke-width="0.42" textLength="41.8" lengthAdjust="spacingAndGlyphs">150</text>
<text x="44" y="324.3" font-size="23.9" stroke="#000" stroke-width="0.42" textLength="41.8" lengthAdjust="spacingAndGlyphs">200</text>
<text x="44" y="398.3" font-size="23.9" stroke="#000" stroke-width="0.42" textLength="41.8" lengthAdjust="spacingAndGlyphs">250</text>
<text x="44" y="472.3" font-size="23.9" stroke="#000" stroke-width="0.42" textLength="41.8" lengthAdjust="spacingAndGlyphs">300</text>
<text x="44" y="545.3" font-size="23.9" stroke="#000" stroke-width="0.42" textLength="41.8" lengthAdjust="spacingAndGlyphs">350</text>
<text x="44" y="619.3" font-size="23.9" stroke="#000" stroke-width="0.42" textLength="41.8" lengthAdjust="spacingAndGlyphs">400</text>
<g transform="translate(29.6 317.4) rotate(-90)"><text x="-69.8" y="0" font-size="26.6" font-weight="bold" stroke="#000" stroke-width="0.56" textLength="83.3" lengthAdjust="spacingAndGlyphs">Depth</text><text x="22" y="0" font-size="26.6" font-weight="bold" stroke="#000" stroke-width="0.56" textLength="47.7" lengthAdjust="spacingAndGlyphs">(m)</text>
</g>
<text x="349" y="695.9" font-size="18.9" font-style="italic" stroke="#000" stroke-width="0.33" textLength="55.5" lengthAdjust="spacingAndGlyphs">Ocean</text><text x="410" y="695.9" font-size="18.9" font-style="italic" stroke="#000" stroke-width="0.33" textLength="41.2" lengthAdjust="spacingAndGlyphs">Heat</text><text x="456.7" y="695.9" font-size="18.9" font-style="italic" stroke="#000" stroke-width="0.33" textLength="69" lengthAdjust="spacingAndGlyphs">Content</text><text x="531.2" y="695.9" font-size="18.9" font-style="italic" stroke="#000" stroke-width="0.33" textLength="86.6" lengthAdjust="spacingAndGlyphs">(kJ/cm^2)</text><text x="623.3" y="695.9" font-size="18.9" font-style="italic" stroke="#000" stroke-width="0.33" textLength="6.3" lengthAdjust="spacingAndGlyphs">-</text><text x="635.1" y="695.9" font-size="18.9" font-style="italic" stroke="#000" stroke-width="0.33" textLength="46.5" lengthAdjust="spacingAndGlyphs">Argo:</text><text x="687" y="695.9" font-size="18.9" font-style="italic" stroke="#000" stroke-width="0.33" textLength="77.3" lengthAdjust="spacingAndGlyphs">82.5122,</text><text x="775.3" y="695.9" font-size="18.9" font-style="italic" stroke="#000" stroke-width="0.33" textLength="63.1" lengthAdjust="spacingAndGlyphs">RTOFS:</text><text x="844" y="695.9" font-size="18.9" font-style="italic" stroke="#000" stroke-width="0.33" textLength="77.3" lengthAdjust="spacingAndGlyphs">55.5438,</text><text x="932.3" y="695.9" font-size="18.9" font-style="italic" stroke="#000" stroke-width="0.33" textLength="50.4" lengthAdjust="spacingAndGlyphs">ESPC:</text><text x="988.2" y="695.9" font-size="18.9" font-style="italic" stroke="#000" stroke-width="0.33" textLength="77.3" lengthAdjust="spacingAndGlyphs">60.1440,</text><text x="1076.5" y="695.9" font-size="18.9" font-style="italic" stroke="#000" stroke-width="0.33" textLength="69.9" lengthAdjust="spacingAndGlyphs">CMEMS:</text><text x="1151.9" y="695.9" font-size="18.9" font-style="italic" stroke="#000" stroke-width="0.33" textLength="77.3" lengthAdjust="spacingAndGlyphs">70.1265,</text>
<text x="1451.6" y="41" font-size="28.3" font-weight="bold" stroke="#000" stroke-width="0.60" textLength="69.3" lengthAdjust="spacingAndGlyphs">Argo</text><text x="1529.9" y="41" font-size="28.3" font-weight="bold" stroke="#000" stroke-width="0.60" textLength="148.1" lengthAdjust="spacingAndGlyphs">#4903372</text>
<text x="1451.6" y="70.8" font-size="28.3" font-weight="bold" stroke="#000" stroke-width="0.60" textLength="93.8" lengthAdjust="spacingAndGlyphs">ARGO:</text><text x="1554.4" y="70.8" font-size="28.3" font-weight="bold" stroke="#000" stroke-width="0.60" textLength="285.1" lengthAdjust="spacingAndGlyphs">2025-10-31T17:24Z</text>
<text x="1451.6" y="100.7" font-size="28.3" font-weight="bold" stroke="#000" stroke-width="0.60" textLength="74.5" lengthAdjust="spacingAndGlyphs">ESPC</text><text x="1535.1" y="100.7" font-size="28.3" font-weight="bold" stroke="#000" stroke-width="0.60" textLength="10.4" lengthAdjust="spacingAndGlyphs">:</text><text x="1554.5" y="100.7" font-size="28.3" font-weight="bold" stroke="#000" stroke-width="0.60" textLength="285.1" lengthAdjust="spacingAndGlyphs">2025-10-31T18:00Z</text>
<text x="1451.6" y="130.7" font-size="28.3" font-weight="bold" stroke="#000" stroke-width="0.60" textLength="105.4" lengthAdjust="spacingAndGlyphs">RTOFS:</text><text x="1566" y="130.7" font-size="28.3" font-weight="bold" stroke="#000" stroke-width="0.60" textLength="285.1" lengthAdjust="spacingAndGlyphs">2025-10-31T18:00Z</text>
<text x="1451.6" y="160.7" font-size="28.3" font-weight="bold" stroke="#000" stroke-width="0.60" textLength="117.5" lengthAdjust="spacingAndGlyphs">CMEMS:</text><text x="1578.1" y="160.7" font-size="28.3" font-weight="bold" stroke="#000" stroke-width="0.60" textLength="285.1" lengthAdjust="spacingAndGlyphs">2025-10-31T18:00Z</text>
<g id="map">
<defs><clipPath id="cm"><rect x="1532.4" y="197.2" width="270.9" height="236.9"/></clipPath></defs>
<rect x="1532.4" y="197.2" width="270.9" height="236.9" fill="#97b6e1"/>
<g clip-path="url(#cm)">
<path d="M1527 327.9L1531.9 327.9L1539.3 328.4L1544.6 330.5L1548.1 335.8L1555.1 337.2L1565.7 336.2L1572.7 339L1579.7 340.2L1586.7 337.6L1593.7 335.8L1599 336.7L1602.5 339.3L1607.8 341.9L1613.1 342.8L1615.7 348.1L1618.3 353.4L1625.4 356L1632.4 361.3L1637.6 367.4L1641.2 371.8L1649.9 377.1L1658.7 379.7L1669.3 378.8L1678 380.6L1688.6 385L1697.3 390.2L1704.4 394.6L1707.9 402.5L1710.5 411.3L1716.7 418.3L1718.4 423.6L1714.9 428.9L1721.9 432.4L1724.6 435.9L1527 435.9Z" fill="#d2b48c" stroke="#000" stroke-width="2.9" stroke-linejoin="round"/>
<path d="M1710.5 434.1L1714.9 425.4L1717.5 429.7L1722.8 432.4L1724.6 434.5Z" fill="#000"/>
<path d="M1613.1 352.5L1604.3 355.1L1593.7 358.6L1581.5 362.1L1572.7 362.1L1563.9 365.7L1558.6 372.7L1555.1 379.7L1552.5 386.7L1552.5 393.7L1556.9 399L1565.7 406L1572.7 406L1579.7 411.3L1590.2 413.9M1590.2 406.9L1590.2 400.8L1593.7 401.7L1604.3 404.3L1614.8 402.5L1619.2 404.3L1618.3 411.3L1614.8 418.3L1611.3 427.1L1607.8 433.8M1531.9 379.7L1537.6 377.9L1544.6 377.6L1554.2 377.1M1531.9 414.8L1541.1 413.1L1549.9 410.4L1553.4 407.8M1556.9 433.8L1557.8 427.1L1561.3 425.4M1602.5 344.6L1604.3 349.9L1606 352.5L1607.8 346.3" fill="none" stroke="#97b6e1" stroke-width="1.9" stroke-linejoin="round"/>
<path d="M1625.4 357.8L1620.1 362.1L1617.5 367.4L1618.3 371.8L1613.1 375.3L1613.1 379.7L1618.3 385.8L1623.6 386.7L1618.3 390.2L1611.3 392.9L1604.3 395.5L1597.3 397.3L1590.2 396.4L1580.6 395.5M1580.6 395.5L1585 399L1586.7 406L1586.7 411.3L1590.2 413.1M1650.8 379.7L1649.9 386.7L1643.8 392L1643.8 399L1648.2 406L1651.7 413.1L1655.2 415.7M1677.2 384.1L1675.4 392L1678.9 400.8L1676.3 407.8L1672.8 411.3M1702.6 395.5L1697.3 404.3L1692.1 411.3L1685.1 413.1L1674.5 412.2L1664 411.3L1655.2 415.7L1646.4 418.3L1637.6 421L1634.1 422.7M1623.6 387.6L1627.1 393.7L1628 399L1626.2 404.3L1625.4 411.3L1627.1 417.5L1632.4 421.8M1532.3 370.9L1537.6 377.1L1546.3 377.1L1555.1 376.5L1552.5 385L1551.6 392L1555.1 399L1555.1 404.3L1551.6 407.8L1555.1 409.6L1558.6 414.8L1559.5 421.8L1563.9 426.2L1572.7 426.2L1581.5 421.8L1586.7 418.3L1588.5 413.1M1532.3 418.3L1542.8 417.5L1549.9 416.6L1556.9 415.7M1533.2 423.6L1539.3 425.4M1533.2 427.1L1539.3 428" fill="none" stroke="#000" stroke-width="1.9" stroke-dasharray="5.2 3" stroke-linejoin="round"/>
<path d="M1632.4 421.8L1635 423.6L1635 433.8M1590.2 413.1L1595.5 413.9L1599.9 420.1L1601.7 427.1L1601.7 433.8M1672.8 412.2L1678 416.6L1685.1 421.8L1688.6 428.9L1689.4 434.1M1623.6 433.8L1623.6 432L1635 432M1558.6 418.3L1561.3 423.6L1559 423.6" fill="none" stroke="#000" stroke-width="1.9" stroke-linejoin="round"/>
<path d="M1598.1 337L1611.3 334.7L1616.2 334.7L1616.2 341.4L1611.7 341.8L1607.8 342.8L1602.5 339.8Z" fill="#97b6e1" stroke="#000" stroke-width="1.8" stroke-linejoin="round"/>
<rect x="1611.8" y="335" width="4.4" height="6.2" fill="#d9bd94" stroke="#000" stroke-width="1.8"/>
<path d="M1528 251.6L1534 252L1539.7 254L1544.2 256.2L1547.9 259.2L1547.1 262.1L1544.2 264.3L1541.2 262.1L1536 261L1528 260.6Z" fill="#d2b48c" stroke="#000" stroke-width="2.6" stroke-linejoin="round"/>
<ellipse cx="1537.3" cy="253.6" rx="3" ry="2" fill="#000"/><path d="M1557.6 261.5L1569.2 260.8L1579.5 260.6L1584.7 258.9L1583.2 262.1L1576.6 264.3L1569.2 266.3L1558.2 267.1L1557.5 264.3Z" fill="#d2b48c" stroke="#000" stroke-width="2.6" stroke-linejoin="round"/>
<ellipse cx="1582.5" cy="260.6" rx="3.2" ry="2" fill="#000"/><ellipse cx="1551.2" cy="265.1" rx="1.4" ry="1.3" fill="#000"/><ellipse cx="1580.3" cy="268" rx="2.5" ry="1.7" fill="#000"/><ellipse cx="1596.5" cy="264.3" rx="2.6" ry="2.3" fill="#000"/><ellipse cx="1599" cy="266.5" rx="1.5" ry="1.5" fill="#000"/><ellipse cx="1607.6" cy="269.2" rx="2.1" ry="2.1" fill="#000"/><ellipse cx="1607.9" cy="274.9" rx="2.3" ry="2.3" fill="#000"/><ellipse cx="1610.5" cy="283.5" rx="3.6" ry="3.3" fill="#000"/><ellipse cx="1613.5" cy="282" rx="2" ry="1.6" fill="#000"/><ellipse cx="1612" cy="290.9" rx="2.2" ry="3.1" fill="#000"/><ellipse cx="1614.9" cy="298.2" rx="2.9" ry="3.6" fill="#000"/><ellipse cx="1615.7" cy="304.9" rx="2.1" ry="3.3" fill="#000"/><ellipse cx="1613.2" cy="312.2" rx="1.9" ry="3" fill="#000"/><ellipse cx="1628.9" cy="311.8" rx="2.3" ry="2.3" fill="#000"/><ellipse cx="1618.6" cy="329.6" rx="2.7" ry="1.9" fill="#000"/><ellipse cx="1595.8" cy="328.8" rx="1.4" ry="1.2" fill="#000"/><ellipse cx="1540.5" cy="320.3" rx="2.8" ry="1.7" fill="#000"/><ellipse cx="1547.1" cy="320.8" rx="2" ry="1.8" fill="#000"/><ellipse cx="1561.9" cy="324.3" rx="2.9" ry="1.9" fill="#000"/><ellipse cx="1567.8" cy="324.8" rx="1.4" ry="1.3" fill="#000"/><ellipse cx="1581.8" cy="324.3" rx="1.9" ry="1.6" fill="#000"/><ellipse cx="1575.1" cy="332.9" rx="2.3" ry="1.6" fill="#000"/><ellipse cx="1585.6" cy="332.6" rx="2.8" ry="2.3" fill="#000"/><ellipse cx="1588.6" cy="331.6" rx="2.2" ry="2" fill="#000"/><path d="M1594.6 269.6L1604.6 278.3" stroke="#000" stroke-width="1.5" stroke-dasharray="2.2 1.6" stroke-linecap="round"/><path d="M1611.4 317.2L1608.4 322.6" stroke="#000" stroke-width="2.6" stroke-linecap="round"/><circle cx="1554.6" cy="323" r="0.9" fill="#555"/><circle cx="1589.2" cy="260" r="0.8" fill="#667"/>
<circle cx="1661.5" cy="245.2" r="6" fill="#0000ff"/>
</g>
<rect x="1532.4" y="197.2" width="270.9" height="236.9" fill="none" stroke="#000" stroke-width="1.67"/>
<path d="M1542.1 197.2v-8.6M1542.1 434.1v8.6M1569.8 197.2v-8.6M1569.8 434.1v8.6M1597.5 197.2v-8.6M1597.5 434.1v8.6M1625.2 197.2v-8.6M1625.2 434.1v8.6M1652.9 197.2v-8.6M1652.9 434.1v8.6M1680.7 197.2v-8.6M1680.7 434.1v8.6M1708.4 197.2v-8.6M1708.4 434.1v8.6M1736.1 197.2v-8.6M1736.1 434.1v8.6M1763.8 197.2v-8.6M1763.8 434.1v8.6M1791.5 197.2v-8.6M1791.5 434.1v8.6M1532.4 434.1h-8.6M1803.3 434.1h8.6M1532.4 406.7h-8.6M1803.3 406.7h8.6M1532.4 379.3h-8.6M1803.3 379.3h8.6M1532.4 351.3h-8.6M1803.3 351.3h8.6M1532.4 323.3h-8.6M1803.3 323.3h8.6M1532.4 295h-8.6M1803.3 295h8.6M1532.4 266h-8.6M1803.3 266h8.6M1532.4 237.2h-8.6M1803.3 237.2h8.6M1532.4 207.6h-8.6M1803.3 207.6h8.6" stroke="#000" stroke-width="3.2" fill="none"/>
<path d="M1532.9 197.2v-3.6M1532.9 434.1v3.6M1551.3 197.2v-3.6M1551.3 434.1v3.6M1560.6 197.2v-3.6M1560.6 434.1v3.6M1579 197.2v-3.6M1579 434.1v3.6M1588.3 197.2v-3.6M1588.3 434.1v3.6M1606.8 197.2v-3.6M1606.8 434.1v3.6M1616 197.2v-3.6M1616 434.1v3.6M1634.5 197.2v-3.6M1634.5 434.1v3.6M1643.7 197.2v-3.6M1643.7 434.1v3.6M1662.2 197.2v-3.6M1662.2 434.1v3.6M1671.4 197.2v-3.6M1671.4 434.1v3.6M1689.9 197.2v-3.6M1689.9 434.1v3.6M1699.1 197.2v-3.6M1699.1 434.1v3.6M1717.6 197.2v-3.6M1717.6 434.1v3.6M1726.8 197.2v-3.6M1726.8 434.1v3.6M1745.3 197.2v-3.6M1745.3 434.1v3.6M1754.6 197.2v-3.6M1754.6 434.1v3.6M1773 197.2v-3.6M1773 434.1v3.6M1782.3 197.2v-3.6M1782.3 434.1v3.6M1800.7 197.2v-3.6M1800.7 434.1v3.6M1532.4 425h-3.6M1803.3 425h3.6M1532.4 415.8h-3.6M1803.3 415.8h3.6M1532.4 397.6h-3.6M1803.3 397.6h3.6M1532.4 388.4h-3.6M1803.3 388.4h3.6M1532.4 370h-3.6M1803.3 370h3.6M1532.4 360.6h-3.6M1803.3 360.6h3.6M1532.4 342h-3.6M1803.3 342h3.6M1532.4 332.6h-3.6M1803.3 332.6h3.6M1532.4 313.9h-3.6M1803.3 313.9h3.6M1532.4 304.4h-3.6M1803.3 304.4h3.6M1532.4 285.3h-3.6M1803.3 285.3h3.6M1532.4 275.7h-3.6M1803.3 275.7h3.6M1532.4 256.4h-3.6M1803.3 256.4h3.6M1532.4 246.8h-3.6M1803.3 246.8h3.6M1532.4 227.3h-3.6M1803.3 227.3h3.6M1532.4 217.5h-3.6M1803.3 217.5h3.6M1532.4 207.6h-3.6M1803.3 207.6h3.6" stroke="#000" stroke-width="1.7" fill="none"/>
<text x="1491.8" y="438.9" font-size="14.2" stroke="#000" stroke-width="0.25" textLength="24.5" lengthAdjust="spacingAndGlyphs">0°N</text>
<text x="1491.8" y="411.5" font-size="14.2" stroke="#000" stroke-width="0.25" textLength="24.5" lengthAdjust="spacingAndGlyphs">3°N</text>
<text x="1491.8" y="384.1" font-size="14.2" stroke="#000" stroke-width="0.25" textLength="24.5" lengthAdjust="spacingAndGlyphs">6°N</text>
<text x="1491.8" y="356.1" font-size="14.2" stroke="#000" stroke-width="0.25" textLength="24.5" lengthAdjust="spacingAndGlyphs">9°N</text>
<text x="1483.5" y="328.1" font-size="14.2" stroke="#000" stroke-width="0.25" textLength="32.8" lengthAdjust="spacingAndGlyphs">12°N</text>
<text x="1483.5" y="299.8" font-size="14.2" stroke="#000" stroke-width="0.25" textLength="32.8" lengthAdjust="spacingAndGlyphs">15°N</text>
<text x="1483.5" y="270.8" font-size="14.2" stroke="#000" stroke-width="0.25" textLength="32.8" lengthAdjust="spacingAndGlyphs">18°N</text>
<text x="1483.5" y="242" font-size="14.2" stroke="#000" stroke-width="0.25" textLength="32.8" lengthAdjust="spacingAndGlyphs">21°N</text>
<text x="1483.5" y="212.4" font-size="14.2" stroke="#000" stroke-width="0.25" textLength="32.8" lengthAdjust="spacingAndGlyphs">24°N</text>
<text x="1523.2" y="459.7" font-size="14.2" stroke="#000" stroke-width="0.25" textLength="35.9" lengthAdjust="spacingAndGlyphs">69°W</text>
<text x="1550.9" y="459.7" font-size="14.2" stroke="#000" stroke-width="0.25" textLength="35.9" lengthAdjust="spacingAndGlyphs">66°W</text>
<text x="1578.6" y="459.7" font-size="14.2" stroke="#000" stroke-width="0.25" textLength="35.9" lengthAdjust="spacingAndGlyphs">63°W</text>
<text x="1606.3" y="459.7" font-size="14.2" stroke="#000" stroke-width="0.25" textLength="35.9" lengthAdjust="spacingAndGlyphs">60°W</text>
<text x="1634" y="459.7" font-size="14.2" stroke="#000" stroke-width="0.25" textLength="35.9" lengthAdjust="spacingAndGlyphs">57°W</text>
<text x="1661.7" y="459.7" font-size="14.2" stroke="#000" stroke-width="0.25" textLength="35.9" lengthAdjust="spacingAndGlyphs">54°W</text>
<text x="1689.4" y="459.7" font-size="14.2" stroke="#000" stroke-width="0.25" textLength="35.9" lengthAdjust="spacingAndGlyphs">51°W</text>
<text x="1717.1" y="459.7" font-size="14.2" stroke="#000" stroke-width="0.25" textLength="35.9" lengthAdjust="spacingAndGlyphs">48°W</text>
<text x="1744.8" y="459.7" font-size="14.2" stroke="#000" stroke-width="0.25" textLength="35.9" lengthAdjust="spacingAndGlyphs">45°W</text>
<text x="1772.6" y="459.7" font-size="14.2" stroke="#000" stroke-width="0.25" textLength="35.9" lengthAdjust="spacingAndGlyphs">42°W</text>

</g>
<g id="legend">
<rect x="1502.15" y="486.1" width="330.75" height="127.75" rx="3.4" ry="3.4" fill="#fff" stroke="#d7d7d7" stroke-width="1.75"/>
<path d="M1508.9 503.5H1554.1" stroke="#0000ff" stroke-width="2.95"/><circle cx="1531.5" cy="503.5" r="6.1" fill="#0000ff"/><text x="1568.6" y="511" font-size="22.7" stroke="#000" stroke-width="0.40" textLength="92.9" lengthAdjust="spacingAndGlyphs">4903372</text><text x="1668.1" y="511" font-size="22.7" stroke="#000" stroke-width="0.40" textLength="82" lengthAdjust="spacingAndGlyphs">[-56.03,</text><text x="1756.7" y="511" font-size="22.7" stroke="#000" stroke-width="0.40" textLength="67.8" lengthAdjust="spacingAndGlyphs">20.16]</text>
<path d="M1508.9 534.3H1554.1" stroke="#008000" stroke-width="2.95"/><circle cx="1531.5" cy="534.3" r="6.1" fill="#008000"/><text x="1568.6" y="541.6" font-size="22.7" stroke="#000" stroke-width="0.40" textLength="53.5" lengthAdjust="spacingAndGlyphs">ESPC</text><text x="1628.8" y="541.6" font-size="22.7" stroke="#000" stroke-width="0.40" textLength="68.7" lengthAdjust="spacingAndGlyphs">[-56.0,</text><text x="1704.1" y="541.6" font-size="22.7" stroke="#000" stroke-width="0.40" textLength="67.8" lengthAdjust="spacingAndGlyphs">20.16]</text>
<path d="M1508.9 564.6H1554.1" stroke="#ff0000" stroke-width="2.95"/><circle cx="1531.5" cy="564.6" r="6.1" fill="#ff0000"/><text x="1568.6" y="571.9" font-size="22.7" stroke="#000" stroke-width="0.40" textLength="67" lengthAdjust="spacingAndGlyphs">RTOFS</text><text x="1642.2" y="571.9" font-size="22.7" stroke="#000" stroke-width="0.40" textLength="82" lengthAdjust="spacingAndGlyphs">[-56.00,</text><text x="1730.8" y="571.9" font-size="22.7" stroke="#000" stroke-width="0.40" textLength="67.8" lengthAdjust="spacingAndGlyphs">20.13]</text>
<path d="M1508.9 595.4H1554.1" stroke="#ff00ff" stroke-width="2.95"/><circle cx="1531.5" cy="595.4" r="6.1" fill="#ff00ff"/><text x="1568.6" y="602.2" font-size="22.7" stroke="#000" stroke-width="0.40" textLength="76.9" lengthAdjust="spacingAndGlyphs">CMEMS</text><text x="1652.2" y="602.2" font-size="22.7" stroke="#000" stroke-width="0.40" textLength="82" lengthAdjust="spacingAndGlyphs">[-56.00,</text><text x="1740.8" y="602.2" font-size="22.7" stroke="#000" stroke-width="0.40" textLength="67.8" lengthAdjust="spacingAndGlyphs">20.17]</text>
</g>
</g>
</svg>
</body></html>
